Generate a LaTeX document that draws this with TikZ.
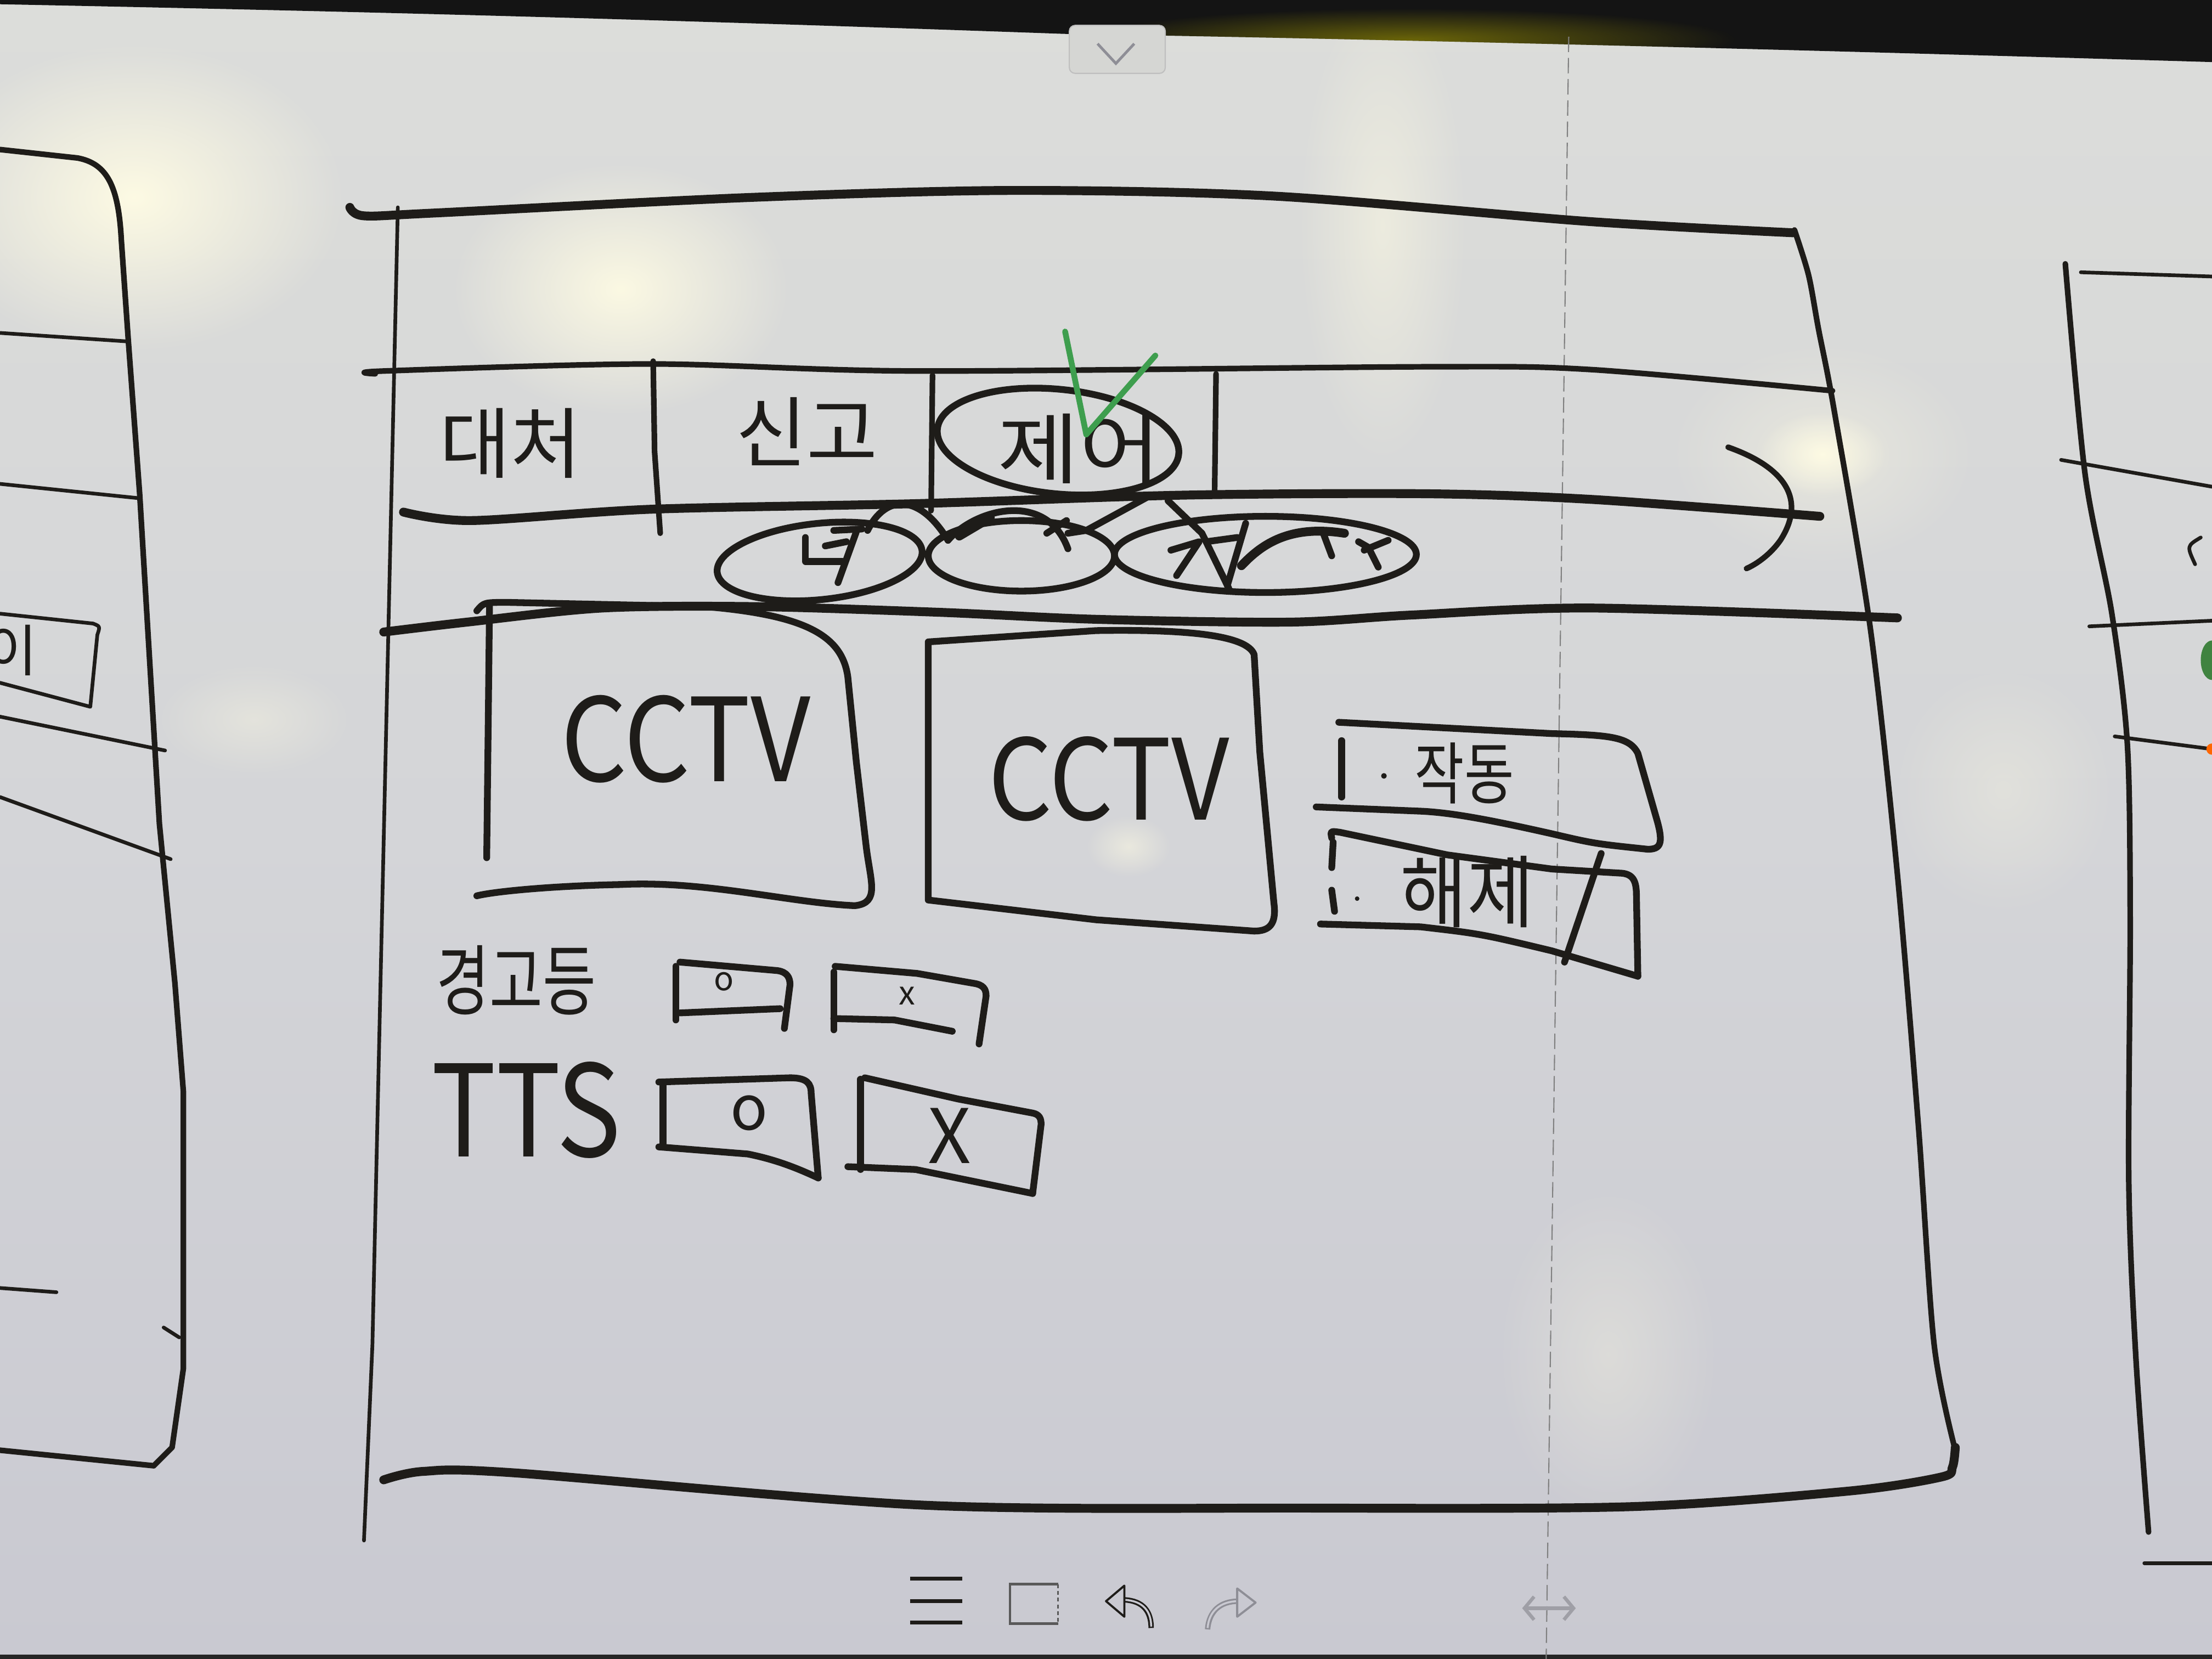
\documentclass[tikz,border=0pt]{standalone}
\usepackage{fontspec}
\newfontfamily\kr{Noto Sans CJK KR}
\usetikzlibrary{fadings,arrows.meta}
\tikzfading[name=glowfade, inner color=transparent!0, outer color=transparent!100]
\definecolor{ink}{HTML}{1E1C19}
\definecolor{bgtop}{HTML}{DCDDDA}
\definecolor{bgmid}{HTML}{D4D5D8}
\definecolor{bgbot}{HTML}{C9C9D1}
\definecolor{glare}{HTML}{FFFCE4}
\definecolor{chk}{HTML}{3E9E4E}
\definecolor{uigray}{HTML}{8E8E96}
\newcommand\kfs[1]{\fontsize{#1}{#1}\selectfont}
\tikzset{
  pen/.style={ink, line width=3.5pt, line cap=round, line join=round},
  heavy/.style={pen, line width=4.6pt},
  mid/.style={pen, line width=2.9pt},
  thinpen/.style={pen, line width=1.9pt},
  hairpen/.style={pen, line width=1.1pt},
  lbl/.style={ink, inner sep=0pt, font=\kr},
  glarespot/.style={fill=glare, path fading=glowfade},
}
\begin{document}
\begin{tikzpicture}[x=0.0257143cm, y=-0.0257143cm]
\useasboundingbox (0,0) rectangle (1568,1176);
% board
\shade[top color=bgtop, bottom color=bgbot, middle color=bgmid] (0,0) rectangle (1568,1176);
% glare
\fill[glarespot, fill opacity=.95] (95,140) ellipse [x radius=150, y radius=110];
\fill[glarespot, fill opacity=.9] (440,205) ellipse [x radius=120, y radius=90];
\fill[glarespot, fill opacity=.5] (980,160) ellipse [x radius=60, y radius=170];
\fill[glarespot, fill opacity=.95] (1292,322) ellipse [x radius=45, y radius=30];
\fill[glarespot, fill opacity=.4] (1292,322) ellipse [x radius=110, y radius=80];
\fill[glarespot, fill opacity=.5] (800,600) ellipse [x radius=30, y radius=22];
\fill[glarespot, fill opacity=.35] (180,510) ellipse [x radius=70, y radius=40];
\fill[glarespot, fill opacity=.3] (1140,960) ellipse [x radius=80, y radius=120];
\fill[glarespot, fill opacity=.3] (1420,560) ellipse [x radius=80, y radius=90];
% bezel
\fill[black!92] (0,0) -- (1568,0) -- (1568,44) .. controls (1300,36) and (1000,28) .. (754,24) .. controls (500,15) and (300,9) .. (0,3) -- cycle;
\begin{scope}
\clip (0,0) -- (1568,0) -- (1568,44) .. controls (1300,36) and (1000,28) .. (754,24) .. controls (500,15) and (300,9) .. (0,3) -- cycle;
\fill[fill=olive!70!yellow, path fading=glowfade, fill opacity=.55] (1000,28) ellipse [x radius=230, y radius=22];
\end{scope}
\fill[black!85] (0,1173) rectangle (1568,1176);
% chevron tab
\draw[fill=black!3!bgtop, draw=black!25, line width=.6pt, rounded corners=3pt] (758,18) rectangle (826,52);
\draw[uigray, line width=1.4pt] (778,31) -- (791,45) -- (804,31);
% dashed guide
\draw[black!50, line width=.6pt, dash pattern=on 8pt off 3pt] (1112,26) -- (1096,1176);

% ===== left partial panel =====
\draw[mid] (0,106) -- (55,112) .. controls (76,116) and (84,132) .. (86,170) -- (91,242) -- (99,350) -- (113,584) -- (124,697) -- (130,774) -- (130,970) -- (122,1026) -- (109,1039) -- (0,1028);
\draw[thinpen] (0,236) -- (90,242);
\draw[thinpen] (0,343) -- (97,353);
\draw[thinpen] (0,435) -- (66,442) .. controls (71,444) .. (69,450) -- (64,501) -- (0,484);
\draw[thinpen] (0,508) -- (117,532);
\draw[thinpen] (0,565) -- (121,609);
\draw[thinpen] (0,913) -- (40,916);
\draw[thinpen] (116,941) -- (127,948);
\node[lbl, anchor=west] (leftyi) at (-10,461) {\kfs{29pt}이};

% ===== right partial panel =====
\draw[mid] plot[smooth] coordinates {(1464,187) (1478,336) (1497,435) (1508,528) (1510,652) (1509,838) (1514,962) (1523,1086)};
\draw[thinpen] (1475,193) -- (1568,196);
\draw[thinpen] (1461,326) -- (1568,345);
\draw[thinpen] (1481,444) -- (1568,440);
\draw[thinpen] (1499,522) -- (1568,531);
\draw[thinpen] (1560,381) .. controls (1550,387) .. (1556,400);
\draw[thinpen] (1520,1108) -- (1568,1108);
\fill[green!35!black!75] (1568,468) ellipse [x radius=8, y radius=14];
\fill[orange!80!red] (1568,531) circle [radius=4];

% ===== main frame =====
\draw[heavy] plot[smooth] coordinates {(248,147) (258,153) (308,151) (531,140) (717,135) (903,139) (1126,157) (1271,165)};
\draw[mid] plot[smooth] coordinates {(1272,163) (1282,195) (1289,233) (1300,290) (1326,447) (1345,620) (1360,800) (1371,953) (1386,1028)};
\draw[heavy] plot[smooth] coordinates {(1386,1026) (1384,1040) (1376,1047) (1310,1057) (1156,1068) (925,1069) (656,1067) (364,1044) (300,1043) (272,1049)};
\draw[thinpen] (282,147) -- (264,953) -- (258,1092);

% tab bar
\draw[mid] plot[smooth] coordinates {(266,265) (272,263) (461,258) (650,263) (1011,260) (1128,262) (1299,277)};
\draw[heavy] plot[smooth] coordinates {(286,363) (334,369) (461,361) (650,357) (838,351) (1011,350) (1128,354) (1290,366)};
\draw[heavy] plot[smooth] coordinates {(272,448) (331,441) (427,431) (535,430) (665,434) (777,439) (914,441) (1000,436) (1128,431) (1345,438)};
\draw[mid] (463,256) -- (464,320) -- (468,378);
\draw[mid] (661,266) -- (660,362);
\draw[mid] (862,265) -- (861,349);
\node[lbl] (tab1) at (362,314) {\kfs{40pt}대처};
\node[lbl] (tab2) at (572,306) {\kfs{40pt}신고};
\node[lbl, xscale=1.15] (tab3) at (765,318) {\kfs{40pt}제어};
\draw[pen, rotate around={-6:(750,313)}] (750,313) ellipse [x radius=86, y radius=37];
\draw[chk, line width=3pt, line cap=round, line join=round] (755,235) -- (770,308) -- (819,252);
% next arrow
\draw[mid] (1225,317) .. controls (1262,330) and (1282,352) .. (1262,383) .. controls (1255,393) and (1245,400) .. (1238,403);

% sub tabs (scribbled)
\draw[pen, rotate around={6:(581,398)}] (581,398) ellipse [x radius=73, y radius=27];
\draw[pen] (724,394) ellipse [x radius=66, y radius=25];
\draw[pen] (897,393) ellipse [x radius=107, y radius=27];
\draw[pen] (615,376) .. controls (628,350) and (652,350) .. (672,383);
\draw[pen] (672,383) .. controls (692,360) and (742,348) .. (757,389);
\draw[heavy] (680,380) -- (702,367);
\draw[pen] (742,378) -- (756,369);
\draw[pen] (757,378) -- (770,376) -- (814,352);
\draw[pen] (828,355) -- (852,378) -- (871,417);
\draw[pen] (571,381) -- (571,398) -- (597,398);
\draw[pen] (591,376) -- (611,375);
\draw[pen] (607,377) -- (594,413);
\draw[pen] (585,387) -- (600,384);
\draw[pen] (830,390) -- (850,384) -- (834,408);
\draw[pen] (855,384) -- (877,381);
\draw[pen] (883,371) -- (870,415);
\draw[heavy] (880,401) .. controls (895,385) and (915,372) .. (953,378);
\draw[pen] (938,378) -- (944,394);
\draw[pen] (963,384) -- (970,388) -- (977,402);
\draw[pen] (967,390) -- (984,383);

% CCTV boxes
\draw[pen] (345,608) -- (346,520) -- (347,428);
\draw[pen] (338,433) .. controls (343,427) .. (360,427) -- (500,430) .. controls (570,436) and (597,450) .. (601,480) -- (607,540) -- (614,600) .. controls (617,625) and (624,640) .. (606,642) .. controls (560,640) and (500,624) .. (440,627) .. controls (390,628) and (350,632) .. (338,635);
\node[lbl, xscale=0.9] (cctv1) at (486,524) {\kfs{60pt}CCTV};
\draw[pen] (658,638) -- (658,455) -- (777,447) .. controls (840,446) and (884,450) .. (889,464) -- (893,533) -- (903,640) .. controls (905,655) and (900,660) .. (889,660) -- (777,652) -- (658,638);
\node[lbl, xscale=0.9] (cctv2) at (786,552) {\kfs{58pt}CCTV};

% 작동 / 해제 buttons
\draw[pen] (951,525) -- (951,565);
\fill[ink] (981,550) circle [radius=2];
\draw[pen] (949,512) -- (1100,520) .. controls (1140,521) and (1155,522) .. (1161,534) -- (1175,583) .. controls (1179,598) and (1177,602) .. (1168,602) .. controls (1130,598) .. (1100,591) .. controls (1060,582) and (1030,576) .. (1007,575) -- (933,572);
\node[lbl, xscale=0.8] (btnon) at (1038,548) {\kfs{35pt}작동};
\draw[pen] (945,597) -- (944,615);
\draw[pen] (944,631) -- (946,646);
\fill[ink] (962,637) circle [radius=1.6];
\draw[pen] (944,594) .. controls (943,589) .. (950,590) -- (1026,606) -- (1100,616) -- (1150,619) .. controls (1158,620) and (1160,625) .. (1160,635) -- (1161,692);
\draw[pen] (936,655) -- (1007,657) .. controls (1050,662) .. (1100,674) -- (1161,692);
\draw[pen] (1135,605) -- (1109,682);
\node[lbl, xscale=0.92] (btnoff) at (1040,632) {\kfs{41pt}해제};

% 경고등 row
\node[lbl, xscale=0.75] (lamp) at (366,695) {\kfs{40pt}경고등};
\draw[pen] (479,685) -- (479,723);
\draw[pen] (482,682) -- (551,688) .. controls (558,689) and (560,693) .. (560,698) -- (556,729);
\draw[pen] (482,718) -- (553,715);
\node[lbl] (lampo) at (513,696) {\kfs{17pt}o};
\draw[pen] (591,689) -- (591,730);
\draw[pen] (592,685) -- (650,690) -- (690,697) .. controls (697,698) and (699,701) .. (699,706) -- (694,740);
\draw[pen] (591,722) -- (634,723) -- (675,731);
\node[lbl] (lampx) at (643,706) {\kfs{17pt}x};

% TTS row
\node[lbl, xscale=0.85] (tts) at (373,787) {\kfs{66pt}TTS};
\draw[pen] (470,768) -- (470,811);
\draw[pen] (467,767) -- (560,764) .. controls (572,764) and (575,768) .. (575,775) -- (580,835);
\draw[pen] (467,813) -- (530,818) .. controls (550,822) and (565,828) .. (580,835);
\node[lbl] (ttso) at (531,789) {\kfs{32pt}o};
\draw[pen] (610,765) -- (610,829);
\draw[pen] (613,764) -- (679,779) -- (732,789) .. controls (737,790) and (738,793) .. (738,797) -- (732,846);
\draw[pen] (601,827) -- (649,829) -- (732,846);
\node[lbl] (ttsx) at (673,805) {\kfs{39pt}X};

% ===== bottom toolbar =====
\draw[ink, line width=1.9pt] (645,1119) -- (682,1119);
\draw[ink, line width=1.9pt] (645,1135) -- (682,1135);
\draw[ink, line width=1.9pt] (645,1150) -- (682,1150);
\draw[black!65, line width=1.3pt] (750,1123) -- (716,1123) -- (716,1151) -- (750,1151);
\draw[black!65, line width=1pt, dash pattern=on 2pt off 1.5pt] (750,1123) -- (750,1151);
\draw[ink, line width=2.8pt] (816,1154) .. controls (816,1140) and (808,1134) .. (795,1134);
\draw[bgbot, line width=1pt] (816,1153) .. controls (816,1140) and (808,1134) .. (795,1134);
\filldraw[fill=bgbot, draw=ink, line width=1.1pt, line join=round] (797,1124) -- (784,1135) -- (797,1146) -- cycle;
\draw[uigray, line width=2.8pt] (856,1155) .. controls (857,1142) and (865,1135) .. (878,1135);
\draw[bgbot, line width=1pt] (856,1154) .. controls (857,1142) and (865,1135) .. (878,1135);
\filldraw[fill=bgbot, draw=uigray, line width=1.1pt, line join=round] (877,1126) -- (890,1136) -- (877,1146) -- cycle;
\draw[uigray!85, line width=1.8pt, {Straight Barb[length=5pt,width=12pt]}-{Straight Barb[length=5pt,width=12pt]}] (1079,1140) -- (1117,1140);
\end{tikzpicture}
\end{document}
